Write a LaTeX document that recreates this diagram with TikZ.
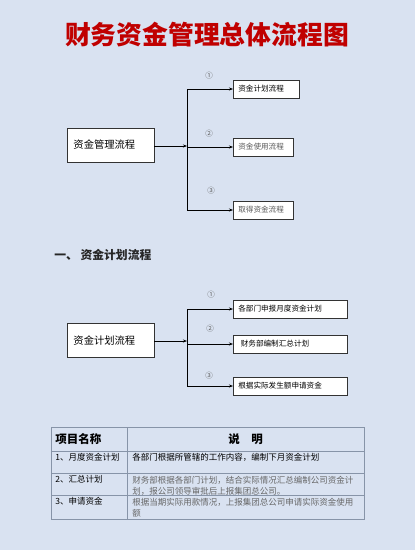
\documentclass[tikz,border=0pt]{standalone}
\usepackage{fontspec}
\setmainfont{Noto Sans CJK SC}
\usetikzlibrary{arrows.meta}
\definecolor{bgblue}{HTML}{D9E2F1}
\definecolor{titlered}{HTML}{C00000}
\definecolor{gridgray}{HTML}{8794A8}
\definecolor{numgray}{HTML}{5E5E5E}

\tikzset{
  mainbox/.style={draw=black!80, fill=white, line width=0.6pt, minimum width=87pt,
    minimum height=34pt, inner xsep=6.5pt, inner ysep=0pt, text width=74pt, align=left,
    font=\fontsize{10.3}{12}\selectfont},
  subbox/.style={draw=black!80, fill=white, line width=0.6pt, anchor=west,
    minimum height=18pt, inner sep=5pt, font=\fontsize{7.6}{9}\selectfont},
  circnum/.style={text=numgray, font=\fontsize{7.5}{8}\selectfont},
  celltext/.style={anchor=north west, inner sep=0pt, align=left,
    font=\fontsize{8.5}{11}\selectfont}
}

\begin{document}
\begin{tikzpicture}[x=1pt, y=-1pt, >={Stealth[length=4pt,width=3pt]}, line width=0.6pt]
    % 背景
    \fill[bgblue] (0,0) rectangle (415,550);
    \useasboundingbox (0,0) rectangle (415,550);

    % 标题
    \node[text=titlered, font=\fontsize{25.8}{27}\selectfont\bfseries] (title) at (207,35) {财务资金管理总体流程图};

    % 资金管理流程
    \node[mainbox] (glmain) at (110.5,145) {资金管理流程\\[2pt]};
    \node[subbox, minimum width=66pt, text width=56pt] (gl1) at (233,89) {资金计划流程};
    \node[subbox, minimum width=60pt, text width=50pt, text=black!65] (gl2) at (233,147) {资金使用流程};
    \node[subbox, minimum width=60pt, text width=50pt, text=black!65] (gl3) at (233,210) {取得资金流程};
    \coordinate (glt) at (187,146);
    \draw[->] (glmain.east |- glt) -- (glt);
    \draw (glt |- gl1) -- (glt |- gl3);
    \foreach \b in {gl1, gl2, gl3} {
        \draw[->] (glt |- \b) -- (\b.west);
    }
    \node[circnum] (gln1) at (209,76) {①};
    \node[circnum] (gln2) at (209,134) {②};
    \node[circnum] (gln3) at (211,191) {③};

    % 一、资金计划流程
    \node[anchor=west, inner sep=0pt, text=black!85, font=\fontsize{11.8}{13}\selectfont\bfseries] (sec1) at (54,255) {一、\ 资金计划流程};

    \node[mainbox] (jhmain) at (110.5,340.5) {资金计划流程\\[2pt]};
    \node[subbox, minimum width=114pt, text width=104pt] (jh1) at (233,309) {各部门申报月度资金计划};
    \node[subbox, minimum width=114pt, text width=104pt] (jh2) at (233,344) {\ 财务部编制汇总计划};
    \node[subbox, minimum width=114pt, text width=104pt] (jh3) at (233,386) {根据实际发生额申请资金};
    \coordinate (jht) at (187,341);
    \draw[->] (jhmain.east |- jht) -- (jht);
    \draw (jht |- jh1) -- (jht |- jh3);
    \foreach \b in {jh1, jh2, jh3} {
        \draw[->] (jht |- \b) -- (\b.west);
    }
    \node[circnum] (jhn1) at (211,295) {①};
    \node[circnum] (jhn2) at (210,329) {②};
    \node[circnum] (jhn3) at (209,376) {③};

    % 说明表格
    \draw[gridgray, line width=0.8pt] (51,427) rectangle (364,519);
    \draw[gridgray, line width=0.8pt] (127,427) -- (127,519);
    \foreach \y in {451, 473, 495} {
        \draw[gridgray, line width=0.8pt] (51,\y) -- (364,\y);
    }
    \node[anchor=west, inner sep=0pt, font=\fontsize{11.5}{13}\selectfont\bfseries] (th1) at (55,439) {项目名称};
    \node[font=\fontsize{11.5}{13}\selectfont\bfseries] (th2) at (245.5,439) {说\quad 明};
    \node[celltext] (r1a) at (55,452.5) {1、月度资金计划};
    \node[celltext] (r1b) at (132,452.5) {各部门根据所管辖的工作内容，编制下月资金计划};
    \node[celltext] (r2a) at (55,475) {2、汇总计划};
    \node[celltext, text=black!60] (r2b) at (132,475.5) {财务部根据各部门计划，结合实际情况汇总编制公司资金计\\划，报公司领导审批后上报集团总公司。};
    \node[celltext] (r3a) at (55,497) {3、申请资金};
    \node[celltext, text=black!60] (r3b) at (132,497.5) {根据当期实际用款情况，上报集团总公司申请实际资金使用\\额};
\end{tikzpicture}
\end{document}
